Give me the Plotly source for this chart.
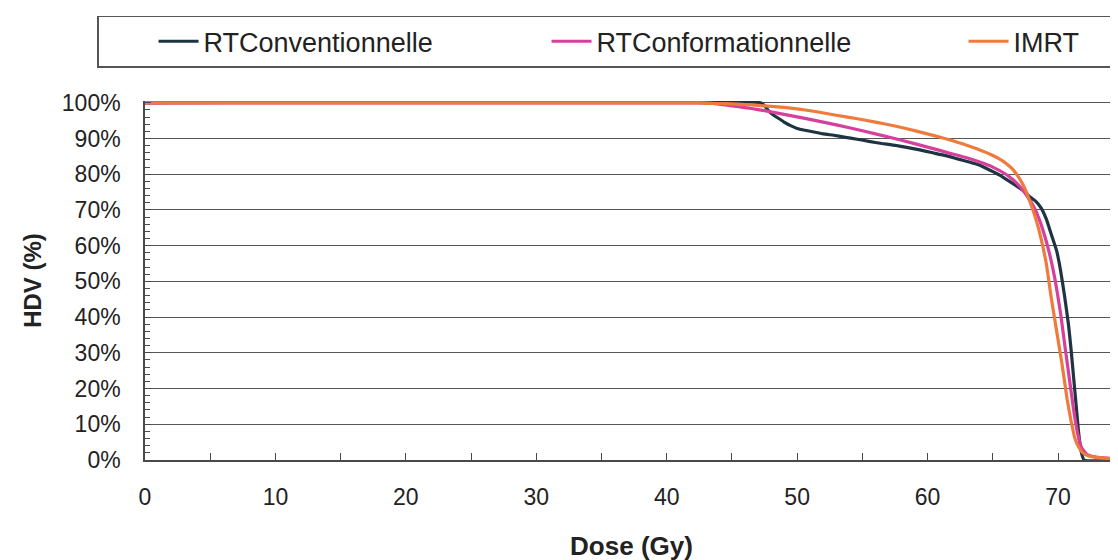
import plotly.graph_objects as go

series_names = ["RTConventionnelle", "RTConformationnelle", "IMRT"]
series_colors = ["#1f3442", "#d6409c", "#ee7a3c"]

dose_conv = [0, 47.2, 47.5, 47.8, 48.1, 48.5, 49.0, 49.5, 50.0, 50.6, 51.2, 52.0, 52.8, 53.6,
             54.6, 55.5, 56.5, 57.5, 58.4, 59.4, 60.4, 61.4, 62.3, 63.2, 64.0, 64.8, 65.5,
             66.1, 66.7, 67.3, 67.8, 68.3, 68.7, 69.1, 69.5, 69.9, 70.2, 70.5, 70.8, 71.0,
             71.2, 71.4, 71.6, 71.8, 72.0, 75.0]
hdv_conv = [100, 100, 99.2, 97.8, 96.8, 95.8, 94.6, 93.6, 92.8, 92.3, 91.9, 91.3, 90.9, 90.4,
            89.8, 89.2, 88.6, 88.1, 87.5, 86.8, 86.0, 85.2, 84.3, 83.4, 82.5, 81.1, 79.8,
            78.4, 77.0, 75.5, 73.8, 72.4, 70.6, 67.5, 63.0, 58.5, 53.0, 46.0, 38.0, 31.0,
            23.0, 15.0, 7.0, 2.0, 0.0, 0.0]

dose_conf = [0, 42.5, 43.5, 44.5, 45.5, 46.5, 47.5, 48.5, 49.5, 50.5, 52, 54, 56, 58, 60, 61,
             62, 63, 64, 65, 66, 66.6, 67.2, 67.7, 68.2, 68.6, 69.0, 69.4, 69.8, 70.2, 70.6,
             70.9, 71.2, 71.5, 71.8, 72.2, 72.8, 73.5, 74.5, 75]
hdv_conf = [100, 100, 99.8, 99.4, 98.9, 98.4, 97.8, 97.1, 96.4, 95.7, 94.6, 93.0, 91.3, 89.5,
            87.6, 86.6, 85.6, 84.6, 83.4, 82.0, 80.0, 78.3, 76.0, 73.5, 70.5, 67.0, 62.5,
            57.0, 50.0, 41.0, 30.0, 22.0, 14.0, 7.5, 3.5, 1.6, 0.9, 0.6, 0.3, 0.2]

dose_imrt = [0, 42, 43, 44, 45, 46, 47, 48, 49, 50, 51.5, 53, 54.5, 56, 57.5, 59, 60.5, 62, 63,
             64, 64.8, 65.5, 66.0, 66.5, 66.9, 67.3, 67.6, 67.9, 68.3, 68.7, 69.1, 69.5, 69.9,
             70.3, 70.7, 71.0, 71.3, 71.6, 71.9, 72.3, 72.8, 73.5, 74.5, 75]
hdv_imrt = [100, 100, 99.9, 99.8, 99.7, 99.5, 99.3, 99.0, 98.7, 98.3, 97.5, 96.5, 95.6, 94.6,
            93.5, 92.2, 90.8, 89.3, 88.1, 86.8, 85.6, 84.3, 83.1, 81.5, 79.6, 77.2, 74.8,
            71.8, 67.5, 62.0, 55.0, 45.0, 36.0, 27.0, 17.0, 11.0, 6.0, 3.5, 2.0, 1.2, 0.8,
            0.5, 0.3, 0.2]

x_tick_values = [0, 10, 20, 30, 40, 50, 60, 70]
y_tick_values = [0, 10, 20, 30, 40, 50, 60, 70, 80, 90, 100]
y_tick_labels = ["0%", "10%", "20%", "30%", "40%", "50%", "60%", "70%", "80%", "90%", "100%"]

xs = [dose_conv, dose_conf, dose_imrt]
ys = [hdv_conv, hdv_conf, hdv_imrt]
legend_widths = [338, 362, 103]

fig = go.Figure()
for name, color, x, y, lw in zip(series_names, series_colors, xs, ys, legend_widths):
    fig.add_trace(go.Scatter(x=x, y=y, mode="lines", name=name, legendwidth=lw,
                             line=dict(color=color, width=3.2, shape="spline", smoothing=0.4)))

font_family = "Liberation Sans, Arial, sans-serif"
axis_color = "#4a4a4a"

fig.update_layout(
    width=1118, height=560,
    margin=dict(l=137, r=8, t=90, b=108),
    plot_bgcolor="white", paper_bgcolor="white",
    font=dict(family=font_family, color="#222222"),
    showlegend=True,
    legend=dict(orientation="h", x=-0.0493, y=1.2376, xanchor="left", yanchor="top",
                bordercolor="#555555", borderwidth=1.5, bgcolor="white",
                font=dict(size=27, family=font_family, color="#222222"),
                title=dict(text="&nbsp;&nbsp;&nbsp;&nbsp;&nbsp;&nbsp;", side="left",
                           font=dict(size=27)),
                itemwidth=40, tracegroupgap=0),
    xaxis=dict(range=[0, 74.6], tickmode="array", tickvals=x_tick_values,
               ticks="inside", ticklen=7, tickwidth=1.3, tickcolor=axis_color,
               showline=True, linecolor=axis_color, linewidth=1.5,
               showgrid=False, zeroline=False,
               minor=dict(tickmode="linear", tick0=5, dtick=10, ticks="inside", ticklen=7,
                          tickwidth=1.3, tickcolor=axis_color, showgrid=False),
               tickfont=dict(size=23, family=font_family, color="#222222"),
               ticklabelstandoff=16,
               title=dict(text="<b>Dose (Gy)</b>", font=dict(size=26, family=font_family),
                          standoff=27),
               automargin=False),
    yaxis=dict(range=[0, 100.5], tickmode="array", tickvals=y_tick_values,
               ticktext=y_tick_labels,
               ticks="inside", ticklen=6, tickwidth=1.2, tickcolor=axis_color,
               showline=True, linecolor=axis_color, linewidth=1.5,
               showgrid=True, gridcolor="#555555", gridwidth=1.3, zeroline=False,
               minor=dict(tickmode="linear", tick0=0, dtick=2, ticks="inside", ticklen=5,
                          tickwidth=1.1, tickcolor=axis_color, showgrid=False),
               tickfont=dict(size=23, family=font_family, color="#222222"),
               ticklabelstandoff=18,
               title=dict(text="<b>HDV (%)</b>", font=dict(size=24, family=font_family),
                          standoff=13),
               automargin=False),
)

fig.write_html("out.html")
